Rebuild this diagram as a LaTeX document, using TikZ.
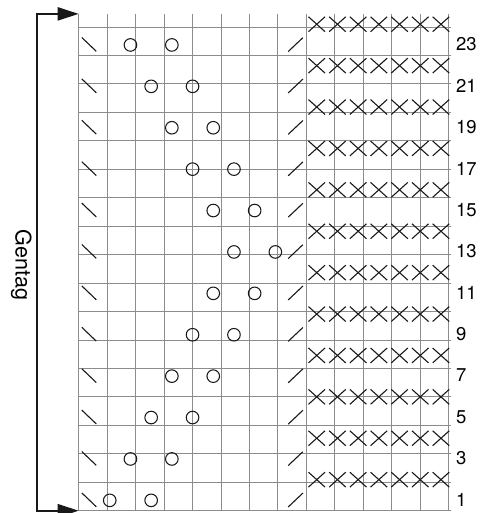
\documentclass[tikz,border=0pt]{standalone}
\usepackage{fontspec}
\setmainfont{TeX Gyre Heros}
\usetikzlibrary{arrows.meta}
\begin{document}
\begin{tikzpicture}[x=20.7pt,y=20.7pt,
 gridline/.style={draw=black!45,line width=0.9pt},
 sym/.style={draw=black!90,line width=1.1pt},
 knit/.style={circle,draw=black!90,line width=1.05pt,minimum size=12.6pt,inner sep=0pt},
 rownum/.style={anchor=west,inner sep=0pt,font=\fontsize{18.5}{18.5}\selectfont},
 bracketline/.style={line width=2.2pt,draw=black!90,{Triangle[length=21pt,width=13pt]}-{Triangle[length=21pt,width=13pt]}},
 sidelabel/.style={inner sep=0pt,rotate=-90,font=\fontsize{21.5}{21.5}\selectfont},
]
\useasboundingbox (-78.7pt,-2.3pt) rectangle (401.3pt,510.7pt);
\draw[gridline] (0,0) grid (18,24);
% X rows (even rows, cols 12..18)
\foreach \r in {2,4,...,24}{
  \foreach \c in {12,...,18}{
    \draw[sym] (\c-0.9,\r-0.14) -- (\c-0.1,\r-0.86);
    \draw[sym] (\c-0.9,\r-0.86) -- (\c-0.1,\r-0.14);
  }
}
% odd rows: decreases, yarn overs, labels
\foreach \r/\a/\b in {1/2/4,3/3/5,5/4/6,7/5/7,9/6/8,11/7/9,13/8/10,15/7/9,17/6/8,19/5/7,21/4/6,23/3/5}{
  \draw[sym] (0.15,\r-0.14) -- (0.85,\r-0.81);
  \draw[sym] (10.12,\r-0.82) -- (10.83,\r-0.15);
  \node[knit] (ya\r) at (\a-0.5,\r-0.5) {};
  \node[knit] (yb\r) at (\b-0.5,\r-0.5) {};
  \node[rownum,xshift=4.5pt,yshift=0.7pt] (n\r) at (18,\r-0.5) {\r};
}
% bracket
\coordinate (gtl) at (0,24);
\coordinate (gbl) at (0,0);
\coordinate (ct) at (-42pt,24);
\coordinate (cb) at (-42pt,0);
\draw[bracketline] (gtl) -- (ct) -- (cb) -- (gbl);
\node[sidelabel] (gentag) at (-57.4pt,245.8pt) {Gentag};
\end{tikzpicture}
\end{document}
